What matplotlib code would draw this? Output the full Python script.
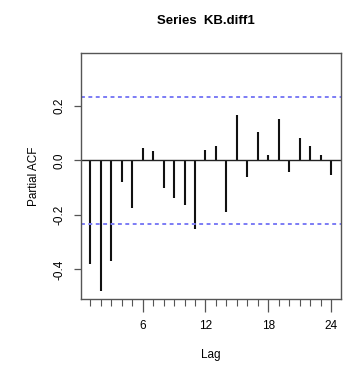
import matplotlib
matplotlib.use("Agg")
import matplotlib.pyplot as plt
import numpy as np

plt.rcParams['font.family'] = ['Liberation Sans', 'DejaVu Sans']

lags = list(range(1, 25))
pacf = [-0.382, -0.478, -0.369, -0.078, -0.176, 0.044, 0.034, -0.103,
        -0.137, -0.165, -0.251, 0.038, 0.054, -0.191, 0.168, -0.060,
        0.103, 0.021, 0.153, -0.043, 0.081, 0.053, 0.020, -0.055]
ci = 0.234
xticks_major = [6, 12, 18, 24]
yticks = [-0.4, -0.2, 0.0, 0.2]
ytick_labels = ["-0.4", "-0.2", "0.0", "0.2"]

fig = plt.figure(figsize=(3.5, 3.69), dpi=100)
ax = fig.add_axes([0.2306, 0.1889, 0.7429, 0.6667])

ax.vlines(lags, 0, pacf, color='#111111', linewidth=1.5)
ax.axhline(0, color='#222222', linewidth=1.0)
ax.axhline(ci, color='#7c7cf5', linestyle=(0, (2, 1.8)), linewidth=1.4)
ax.axhline(-ci, color='#7c7cf5', linestyle=(0, (2, 1.8)), linewidth=1.4)

ax.set_xlim(0.08, 24.92)
ax.set_ylim(-0.51, 0.393)

ax.set_xticks(xticks_major)
ax.set_xticklabels([str(v) for v in xticks_major])
ax.set_xticks(lags, minor=True)
ax.set_yticks(yticks)
ax.set_yticklabels(ytick_labels, rotation=90, va='center')

for s in ax.spines.values():
    s.set_color('#555555')
    s.set_linewidth(1.0)

ax.tick_params(axis='x', which='major', length=9, width=0.9, color='#555555',
               labelsize=8.5, pad=6)
ax.tick_params(axis='x', which='minor', length=5, width=0.8, color='#555555')
ax.tick_params(axis='y', which='major', length=5, width=0.9, color='#555555',
               labelsize=8.5, pad=6)

ax.set_xlabel("Lag", fontsize=8.5, labelpad=12)
ax.set_ylabel("Partial ACF", fontsize=8.5, labelpad=10)
fig.text(0.5886, 0.943, "Series  KB.diff1", ha='center', va='center',
         fontsize=9.5, fontweight='bold')

fig.savefig("out.png", dpi=100)
